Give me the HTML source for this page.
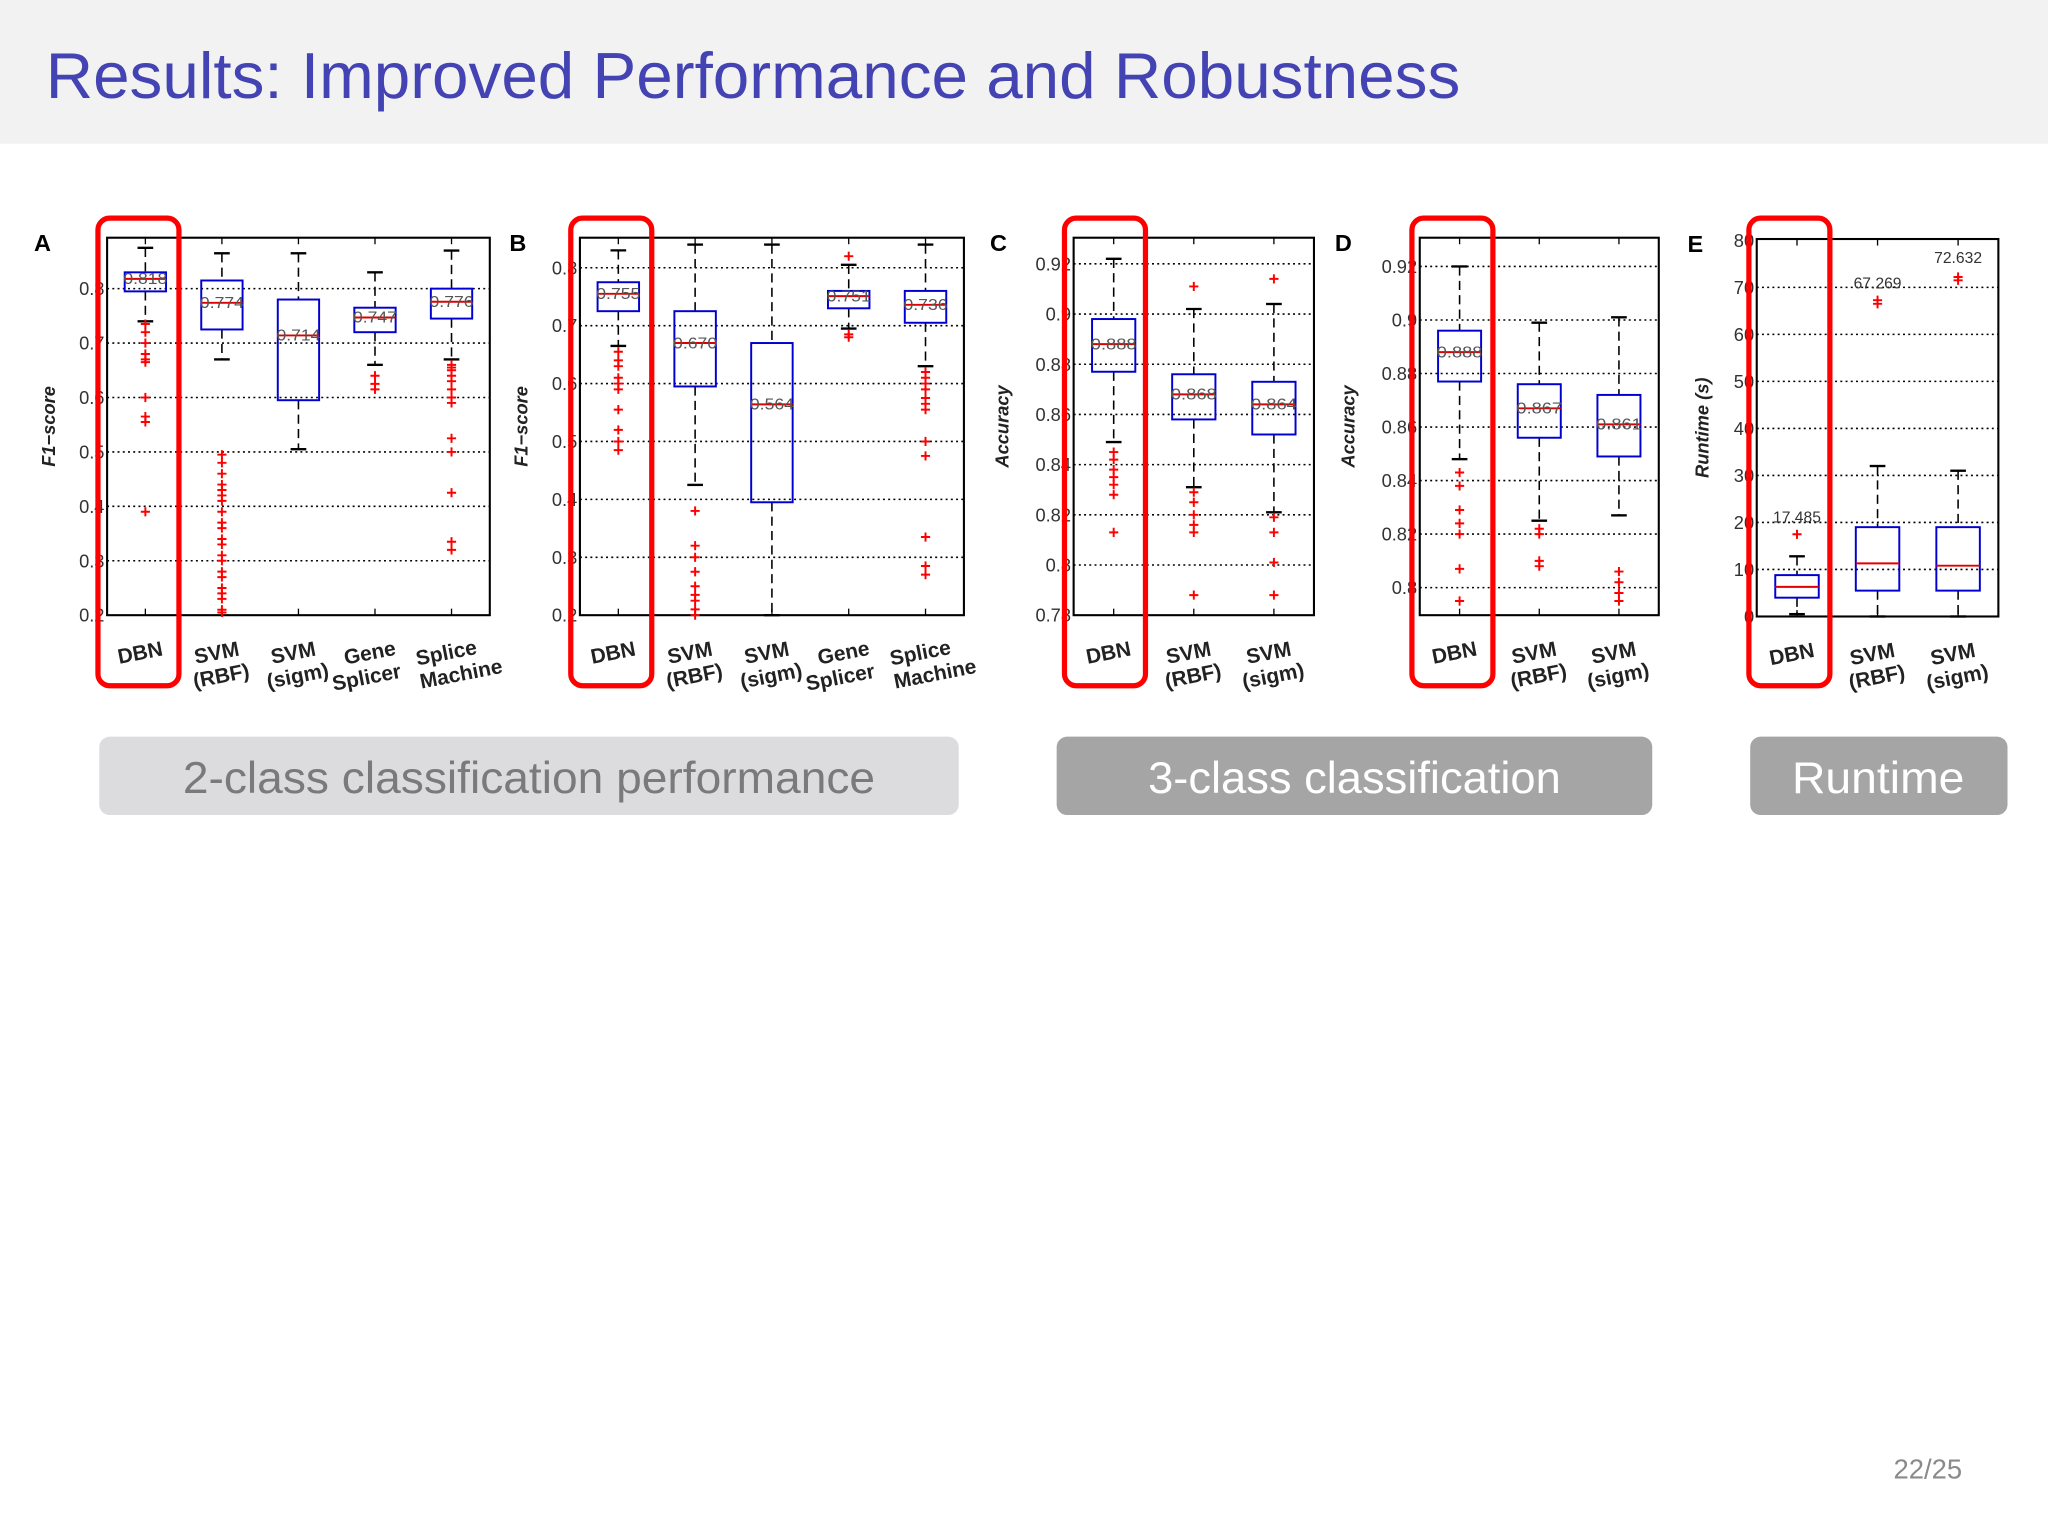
<!DOCTYPE html>
<html><head><meta charset="utf-8"><style>
html,body{margin:0;padding:0;background:#fff;}
svg{display:block;}
</style></head><body>
<svg id="slide" width="2048" height="1536" viewBox="0 0 1568 1176" xmlns="http://www.w3.org/2000/svg" font-family="Liberation Sans, sans-serif">
<rect x="0" y="0" width="1568" height="110" fill="#f2f2f2"/>
<text x="35" y="75" font-size="50" fill="#4343b3" textLength="1083" lengthAdjust="spacingAndGlyphs">Results: Improved Performance and Robustness</text>
<g id="charts"></g>
<rect x="76" y="564" width="658" height="60" rx="8" fill="#dcdcdf"/>
<text x="405" y="607" font-size="34" fill="#7a7a7a" text-anchor="middle" textLength="530" lengthAdjust="spacingAndGlyphs">2-class classification performance</text>
<rect x="809" y="564" width="456" height="60" rx="8" fill="#a5a5a5"/>
<text x="1037" y="607" font-size="34" fill="#fff" text-anchor="middle" textLength="316" lengthAdjust="spacingAndGlyphs">3-class classification</text>
<rect x="1340" y="564" width="197" height="60" rx="8" fill="#a5a5a5"/>
<text x="1438" y="607" font-size="34" fill="#fff" text-anchor="middle" textLength="132" lengthAdjust="spacingAndGlyphs">Runtime</text>
<text x="1476" y="1132" font-size="21" fill="#8a8a8a" text-anchor="middle">22/25</text>
</svg>
<script>
// ---- data ----
const catsA = ["DBN","SVM (RBF)","SVM (sigm)","Gene Splicer","Splice Machine"];
const catsC = ["DBN","SVM (RBF)","SVM (sigm)"];
// [lowWhisker, q1, median, q3, highWhisker]
const boxA = [[0.74,0.795,0.818,0.83,0.875],[0.67,0.725,0.774,0.815,0.865],[0.505,0.595,0.714,0.78,0.865],[0.66,0.72,0.747,0.765,0.83],[0.67,0.745,0.776,0.80,0.87]];
const outA = [[0.735,0.72,0.70,0.68,0.67,0.665,0.60,0.565,0.555,0.39],[0.495,0.48,0.46,0.44,0.43,0.42,0.41,0.39,0.37,0.36,0.34,0.33,0.31,0.30,0.28,0.27,0.25,0.24,0.23,0.21,0.205],[],[0.64,0.625,0.615],[0.66,0.655,0.65,0.64,0.63,0.615,0.60,0.59,0.525,0.50,0.425,0.335,0.32]];
const labA = ["0.818","0.774","0.714","0.747","0.776"];
const boxB = [[0.665,0.725,0.755,0.775,0.83],[0.425,0.595,0.670,0.725,0.84],[0.2,0.395,0.564,0.67,0.84],[0.695,0.73,0.751,0.76,0.805],[0.63,0.705,0.736,0.76,0.84]];
const outB = [[0.655,0.64,0.63,0.61,0.60,0.59,0.555,0.52,0.50,0.485],[0.38,0.32,0.30,0.275,0.25,0.235,0.225,0.21,0.20],[],[0.82,0.685,0.68],[0.62,0.61,0.60,0.59,0.575,0.565,0.555,0.50,0.475,0.335,0.285,0.27]];
const labB = ["0.755","0.670","0.564","0.751","0.736"];
const boxC = [[0.849,0.877,0.888,0.898,0.922],[0.831,0.858,0.868,0.876,0.902],[0.821,0.852,0.864,0.873,0.904]];
const outC = [[0.845,0.842,0.838,0.835,0.832,0.828,0.813],[0.911,0.829,0.825,0.82,0.816,0.813,0.788],[0.914,0.819,0.813,0.801,0.788]];
const labC = ["0.888","0.868","0.864"];
const boxD = [[0.848,0.877,0.888,0.896,0.92],[0.825,0.856,0.867,0.876,0.899],[0.827,0.849,0.861,0.872,0.901]];
const outD = [[0.843,0.838,0.829,0.824,0.82,0.807,0.795],[0.822,0.82,0.81,0.808],[0.806,0.802,0.798,0.795]];
const labD = ["0.888","0.867","0.861"];
const boxE = [[0.5,4,6.3,8.8,12.8],[0,5.5,11.3,19,32],[0,5.5,10.8,19,31]];
const outE = [[17.485],[66.5,67.269],[71.5,72.2]];
const outLabE = [["17.485",17.485],["67.269",67.269],["72.632",72.632]];
const ticksA = [0.2,0.3,0.4,0.5,0.6,0.7,0.8];
const ticksC = [0.78,0.8,0.82,0.84,0.86,0.88,0.9,0.92];
const ticksD = [0.8,0.82,0.84,0.86,0.88,0.9,0.92];
const ticksE = [0,10,20,30,40,50,60,70,80];

const NS="http://www.w3.org/2000/svg";
const root=document.getElementById('charts');
function mk(tag,attrs,parent){const e=document.createElementNS(NS,tag);for(const k in attrs)e.setAttribute(k,attrs[k]);(parent||root).appendChild(e);return e;}

function panel(p){
  const g=mk('g',{});
  
  
  const y=v=>p.y0+(v-p.v0)/(p.v1-p.v0)*(p.y1-p.y0);
  const n=p.cats.length;
  const step=(p.x1-p.x0)/n;
  const x=i=>p.x0+step*(i+0.5);
  p.ticks.forEach((t,i)=>{
    const yy=y(t);
    if(Math.abs(yy-p.ytop)>2&&Math.abs(yy-p.y0)>2){
      const gl=mk('line',{x1:p.x0,x2:p.x1,y1:yy,y2:yy,stroke:'#000','stroke-width':1.2,'stroke-dasharray':'1.5 2.5'},g);
      
      
    }
    const tl=mk('text',{x:p.x0-2,y:yy+5,'font-size':14,'text-anchor':'end',fill:'#333'},g);
    
    
    tl.textContent=String(t);
  });
  const fr=mk('rect',{x:p.x0,y:p.ytop,width:p.x1-p.x0,height:p.y0-p.ytop,fill:'none',stroke:'#000','stroke-width':1.6},g);
  
  
  const pl=mk('text',{x:p.letterX,y:p.ytop+10,'font-size':18,'font-weight':'bold'},g);
  
  
  pl.textContent=p.id;
  const yt=mk('text',{x:0,y:0,'font-size':14,'font-weight':'bold','font-style':'italic','text-anchor':'middle',fill:'#222',transform:`translate(${p.titleX},${(p.ytop+p.y0)/2}) rotate(-90)`},g);
  
  
  yt.textContent=p.ytitle;
  p.box.forEach((b,i)=>{
    const cx=x(i), hw=step*0.27;
    const bg=mk('g',{},g);
    
    
    mk('line',{x1:cx,x2:cx,y1:p.ytop,y2:p.ytop+5,stroke:'#000','stroke-width':1},bg);
    mk('line',{x1:cx,x2:cx,y1:p.y0,y2:p.y0-5,stroke:'#000','stroke-width':1},bg);
    mk('line',{x1:cx,x2:cx,y1:y(b[4]),y2:y(b[3]),stroke:'#000','stroke-width':1.2,'stroke-dasharray':'7 4'},bg);
    mk('line',{x1:cx,x2:cx,y1:y(b[1]),y2:y(b[0]),stroke:'#000','stroke-width':1.2,'stroke-dasharray':'7 4'},bg);
    mk('line',{x1:cx-6,x2:cx+6,y1:y(b[4]),y2:y(b[4]),stroke:'#000','stroke-width':1.8},bg);
    mk('line',{x1:cx-6,x2:cx+6,y1:y(b[0]),y2:y(b[0]),stroke:'#000','stroke-width':1.8},bg);
    mk('rect',{x:cx-hw,y:y(b[3]),width:2*hw,height:y(b[1])-y(b[3]),fill:'none',stroke:'#0000d0','stroke-width':1.5},bg);
    mk('line',{x1:cx-hw,x2:cx+hw,y1:y(b[2]),y2:y(b[2]),stroke:'#e00000','stroke-width':1.5},bg);
    if(p.lab){
      const ml=mk('text',{x:cx,y:y(b[2])+4,'font-size':12,'text-anchor':'middle',fill:'#555',textLength:2*hw+2,lengthAdjust:'spacingAndGlyphs'},bg);
      
      
      ml.textContent=p.lab[i];
    }
    p.out[i].forEach(o=>{
      const oy=y(o);
      const om=mk('path',{d:`M${cx-3.5},${oy}H${cx+3.5}M${cx},${oy-3.5}V${oy+3.5}`,stroke:'#f00','stroke-width':1.5},bg);
      
      
    });
    const lines=p.cats[i].split(' ');
    const xl=mk('text',{'font-size':16,'font-weight':'bold',fill:'#222','text-anchor':'middle',transform:`translate(${cx-3},${p.y0+34}) rotate(-11)`},g);
    
    
    lines.forEach((l,k)=>{const ts=mk('tspan',{x:(lines[0]==='Gene'&&k===1)?-6:(lines[0]==='Splice'&&k===1)?8:0,dy:k?18:0},xl);ts.textContent=l;});
  });
  if(p.outLab){
    p.outLab.forEach((ol,i)=>{
      const t=mk('text',{x:x(i),y:y(ol[1])-9,'font-size':12,'text-anchor':'middle',fill:'#333'},g);
      
      
      t.textContent=ol[0];
    });
  }
  const hl=mk('rect',{x:p.hlX,y:167,width:62,height:358,rx:9,fill:'none',stroke:'#f00','stroke-width':4},g);
  
  
}
panel({id:'A',cats:catsA,box:boxA,out:outA,lab:labA,ticks:ticksA,x0:82,x1:375,ytop:182,y0:471,y1:221,v0:0.2,v1:0.8,letterX:26,titleX:42,ytitle:'F1−score',hlX:75});
panel({id:'B',cats:catsA,box:boxB,out:outB,lab:labB,ticks:ticksA,x0:444,x1:738,ytop:182,y0:471,y1:205,v0:0.2,v1:0.8,letterX:390,titleX:404,ytitle:'F1−score',hlX:437});
panel({id:'C',cats:catsC,box:boxC,out:outC,lab:labC,ticks:ticksC,x0:822,x1:1006,ytop:182,y0:471,y1:202,v0:0.78,v1:0.92,letterX:758,titleX:772,ytitle:'Accuracy',hlX:815});
panel({id:'D',cats:catsC,box:boxD,out:outD,lab:labD,ticks:ticksD,x0:1087,x1:1270,ytop:182,y0:471,y1:204,v0:0.7897,v1:0.92,letterX:1022,titleX:1037,ytitle:'Accuracy',hlX:1081});
panel({id:'E',cats:catsC,box:boxE,out:outE,lab:null,outLab:outLabE,ticks:ticksE,x0:1345,x1:1530,ytop:183,y0:472,y1:184,v0:0,v1:80,letterX:1292,titleX:1308,ytitle:'Runtime (s)',hlX:1339});
</script>
</body></html>
